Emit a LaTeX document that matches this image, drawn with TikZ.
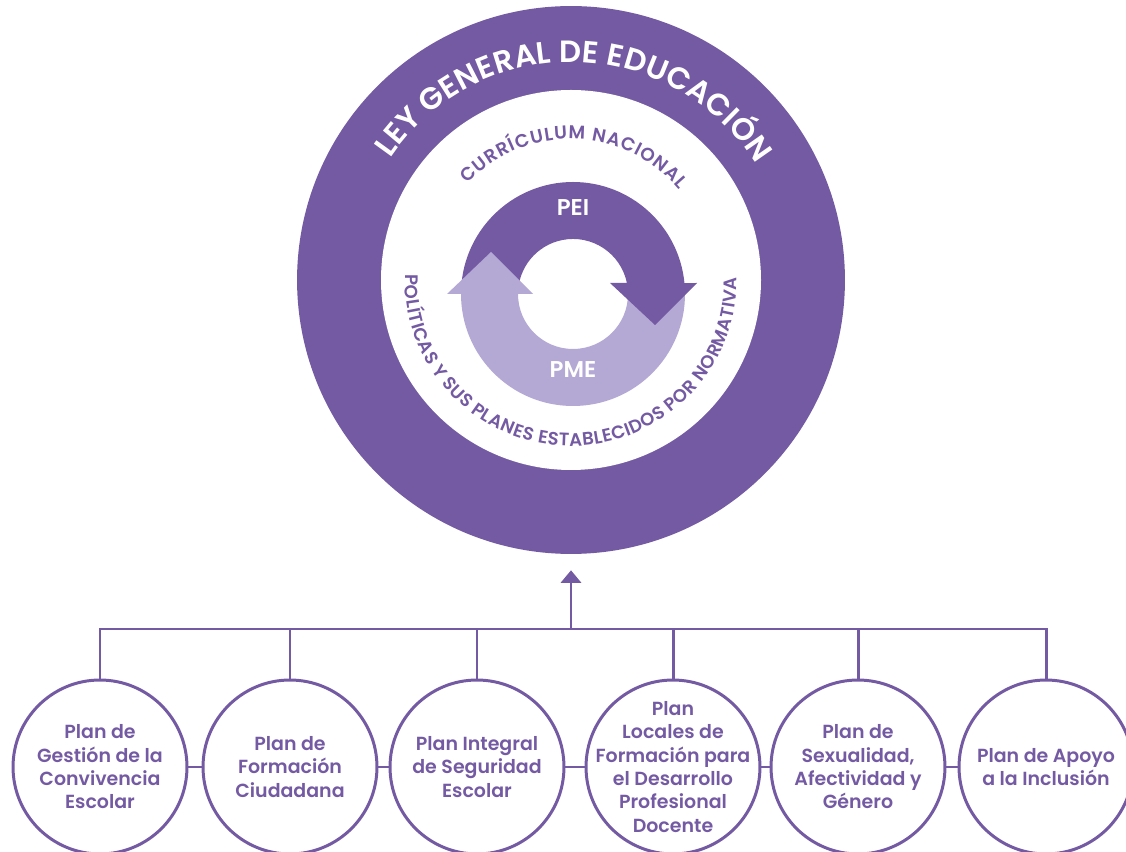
\documentclass[tikz,border=0pt]{standalone}
\usepackage{fontspec}
\setmainfont{Poppins}[BoldFont={Poppins SemiBold}]
\usetikzlibrary{arrows.meta,calc,decorations.text}
\definecolor{lila}{RGB}{116,90,163}
\definecolor{lilaclaro}{RGB}{180,168,212}

\begin{document}
\begin{tikzpicture}[x=0.02cm,y=0.02cm,
	plan/.style={circle,draw=lila,line width=1.7pt,minimum size=3.48cm,inner sep=0pt},
	texto/.style={align=center,text=lila,font=\bfseries\fontsize{10.8}{13.3}\selectfont},
	enlace/.style={draw=lila,line width=1.7pt},
	sigla/.style={text=white,font=\bfseries\fontsize{13}{13}\selectfont}]
		\useasboundingbox (0,0) rectangle (1126,852);
		% ley general y curriculum
		\node[circle,fill=lila,minimum size=10.96cm,inner sep=0pt] (ley) at (571,572) {};
		\fill[white] (ley.center) circle (190);
		\coordinate (ciclo) at (573,558);
		\fill[lilaclaro] ($(ciclo)+(-112,0)$) arc[start angle=180,end angle=360,radius=112] -- ($(ciclo)+(55,0)$) arc[start angle=0,end angle=-180,radius=55] -- cycle;
		\fill[lila] ($(ciclo)+(-112,0)$) arc[start angle=180,end angle=5.6,radius=112] -- ($(ciclo)+(124,11)$) -- ($(ciclo)+(82,-31)$) -- ($(ciclo)+(37,11)$) -- ($(ciclo)+(53.9,11)$) arc[start angle=11.5,end angle=180,radius=55] -- cycle;
		\fill[lilaclaro] ($(ciclo)+(-126,0)$) -- ($(ciclo)+(-82,42)$) -- ($(ciclo)+(-40,0)$) -- cycle;
		\node[sigla] (pei) at ($(ciclo)+(0,86)$) {PEI};
		\node[sigla] (pme) at ($(ciclo)+(0,-76)$) {PME};
		\path[decorate,decoration={text along path,text align={fit to path},
			text={|\color{white}\bfseries\fontsize{17.5}{17}\selectfont|LEY GENERAL DE EDUCACIÓN}}]
			($(ley.center)+(146:218)$) arc[start angle=146,end angle=32,radius=218];
		\path[decorate,decoration={text along path,text align={fit to path},
			text={|\color{lila}\bfseries\fontsize{10.5}{11}\selectfont|CURRÍCULUM NACIONAL}}]
			($(ley.center)+(137:141)$) arc[start angle=137,end angle=40,radius=141];
		\path[decorate,decoration={text along path,text align={fit to path},
			text={|\color{lila}\bfseries\fontsize{10.3}{11}\selectfont|POLÍTICAS Y SUS PLANES ESTABLECIDOS POR NORMATIVA}}]
			($(ley.center)+(178:166)$) arc[start angle=178,end angle=361,radius=166];
		% planes
		\node[plan,label={[texto]center:{Plan de\\Gestión de la\\Convivencia\\Escolar}}] (convivencia) at (100,85) {};
		\node[plan,label={[texto]center:{Plan de\\Formación\\Ciudadana}}] (ciudadana) at (290,85) {};
		\node[plan,label={[texto]center:{Plan Integral\\de Seguridad\\Escolar}}] (seguridad) at (477,85) {};
		\node[plan,label={[texto]center:{Plan\\Locales de\\Formación para\\el Desarrollo\\Profesional\\Docente}}] (docente) at (673,85) {};
		\node[plan,label={[texto]center:{Plan de\\Sexualidad,\\Afectividad y\\Género}}] (sexualidad) at (858,85) {};
		\node[plan,label={[texto]center:{Plan de Apoyo\\a la Inclusión}}] (inclusion) at (1046,85) {};
		\coordinate (bus) at (571,223);
		\draw[enlace] (convivencia.north) -- (convivencia |- bus) -- (inclusion |- bus) -- (inclusion.north);
		\foreach \n in {ciudadana,seguridad,docente,sexualidad} \draw[enlace] (\n.north) -- (\n |- bus);
		\foreach \a/\b in {convivencia/ciudadana,ciudadana/seguridad,seguridad/docente,docente/sexualidad,sexualidad/inclusion} \draw[enlace] (\a.east) -- (\b.west);
		\draw[enlace,-{Triangle[width=0.4cm,length=0.25cm]},shorten >=0.32cm] (bus) -- (ley);
	\end{tikzpicture}
\end{document}
